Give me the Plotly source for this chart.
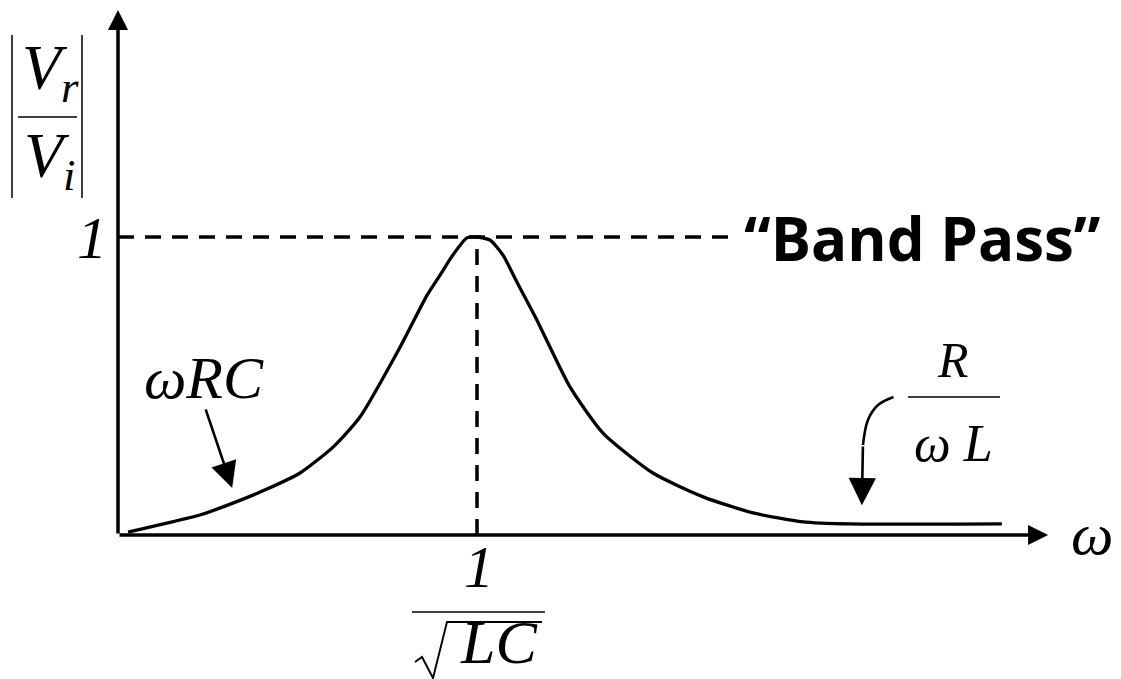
import plotly.graph_objects as go

W, H = 1121, 679
OFF = 8  # page body margin of the html page

# ---- data (normalised: omega in units of 1/sqrt(LC), response |Vr/Vi|) ----
omega = [0.028, 0.136, 0.228, 0.320, 0.415, 0.507, 0.599, 0.674, 0.786, 0.861, 0.897, 0.933,
         0.972, 1.000, 1.036, 1.072, 1.111, 1.167, 1.259, 1.351, 1.490, 1.630, 1.769, 1.908,
         2.039, 2.462]
response = [0.010, 0.040, 0.067, 0.107, 0.154, 0.208, 0.295, 0.396, 0.631, 0.805, 0.872, 0.940,
            0.997, 1.000, 0.990, 0.940, 0.849, 0.721, 0.497, 0.342, 0.208, 0.128, 0.074, 0.044,
            0.037, 0.037]
peak_omega, peak_value = 1.0, 1.0
x_axis_end, y_axis_end = 2.591, 1.762
dash_end = 1.70

# scale of the drawing: pixels per unit, and origin position on the page
SX, SY = 359.0, 298.0
OX, OY = 118.0, 535.0
X0, X1 = (OFF - OX) / SX, (OFF + W - OX) / SX
Y1, Y0 = (OY - OFF) / SY, (OY - OFF - H) / SY

serif = "Liberation Serif"
BLACK = "#000000"


def px(x):
    return (x - OFF) / W


def py(y):
    return 1 - (y - OFF) / H


fig = go.Figure()

# response curve
fig.add_trace(go.Scatter(x=omega, y=response, mode="lines",
                         line=dict(color=BLACK, width=3.3, shape="spline", smoothing=0.6),
                         hoverinfo="skip"))

# dashed guides
fig.add_trace(go.Scatter(x=[0, dash_end], y=[peak_value, peak_value], mode="lines",
                         line=dict(color=BLACK, width=3.5, dash="16px,11px"), hoverinfo="skip"))
fig.add_trace(go.Scatter(x=[peak_omega, peak_omega], y=[0, peak_value], mode="lines",
                         line=dict(color=BLACK, width=3.5, dash="16px,11px"), hoverinfo="skip"))

# hook of the curved R/(wL) pointer
hook_x = [2.160, 2.117, 2.089, 2.075]
hook_y = [0.463, 0.436, 0.386, 0.302]
fig.add_trace(go.Scatter(x=hook_x, y=hook_y, mode="lines",
                         line=dict(color=BLACK, width=2.6, shape="spline"), hoverinfo="skip"))

ann = []
# axes with arrowheads
ann.append(dict(x=x_axis_end, y=0, ax=0, ay=0, xref="x", yref="y", axref="x", ayref="y",
                text="", showarrow=True, arrowhead=2, arrowsize=1.15, arrowwidth=3.5,
                arrowcolor=BLACK))
ann.append(dict(x=0, y=y_axis_end, ax=0, ay=0, xref="x", yref="y", axref="x", ayref="y",
                text="", showarrow=True, arrowhead=2, arrowsize=1.15, arrowwidth=3.5,
                arrowcolor=BLACK))
# wRC pointer
ann.append(dict(x=0.318, y=0.158, ax=-27, ay=-80, xref="x", yref="y",
                text="", showarrow=True, arrowhead=2, arrowsize=2.0, arrowwidth=2.6,
                arrowcolor=BLACK))
# R/(wL) pointer tip
ann.append(dict(x=2.072, y=0.100, ax=2.075, ay=0.302, xref="x", yref="y", axref="x", ayref="y",
                text="", showarrow=True, arrowhead=2, arrowsize=2.1, arrowwidth=2.6,
                arrowcolor=BLACK))


def label(text, cx, cy, size, family=serif, italic=True, bold=False, yanchor="middle"):
    t = text
    if italic:
        t = "<i>" + t + "</i>"
    if bold:
        t = "<b>" + t + "</b>"
    ann.append(dict(x=px(cx), y=py(cy), xref="paper", yref="paper", text=t, showarrow=False,
                    xanchor="center", yanchor=yanchor,
                    font=dict(family=family, size=size, color=BLACK)))


label("V<sub>r</sub>", 50, 72, 64)
label("V<sub>i</sub>", 50, 160, 64)
label("1", 92, 238, 60)
label("ωRC", 204, 378, 60)
label("“Band Pass”", 922, 238, 60, family="Open Sans", italic=False, bold=True)
label("R", 953, 360, 50)
label("ω L", 953, 443, 52)
label("ω", 1092, 534, 60)
label("1", 479, 567, 60)
label("LC", 498, 678, 62, yanchor="bottom")

shapes = []


def hline(x0, x1, y, w=1.5):
    shapes.append(dict(type="line", xref="paper", yref="paper", x0=px(x0), x1=px(x1),
                       y0=py(y), y1=py(y), line=dict(color=BLACK, width=w)))


def vline(x, y0, y1, w=1.5):
    shapes.append(dict(type="line", xref="paper", yref="paper", x0=px(x), x1=px(x),
                       y0=py(y0), y1=py(y1), line=dict(color=BLACK, width=w)))


hline(18, 77, 117)
vline(12, 35, 198)
vline(82, 35, 198)
hline(908, 1000, 397)
hline(412, 545, 612)

# radical sign for sqrt(LC)
rad = [(415, 662), (422, 657), (433, 678), (447, 622), (542, 622)]
path = "M " + " L ".join(f"{px(a):.5f},{py(b):.5f}" for a, b in rad)
shapes.append(dict(type="path", xref="paper", yref="paper", path=path,
                   line=dict(color=BLACK, width=1.9)))

fig.update_layout(
    width=W, height=H, margin=dict(l=0, r=0, t=0, b=0),
    paper_bgcolor="white", plot_bgcolor="white", showlegend=False,
    xaxis=dict(range=[X0, X1], visible=False, fixedrange=True),
    yaxis=dict(range=[Y0, Y1], visible=False, fixedrange=True),
    annotations=ann, shapes=shapes,
)

fig.write_html("out.html")
